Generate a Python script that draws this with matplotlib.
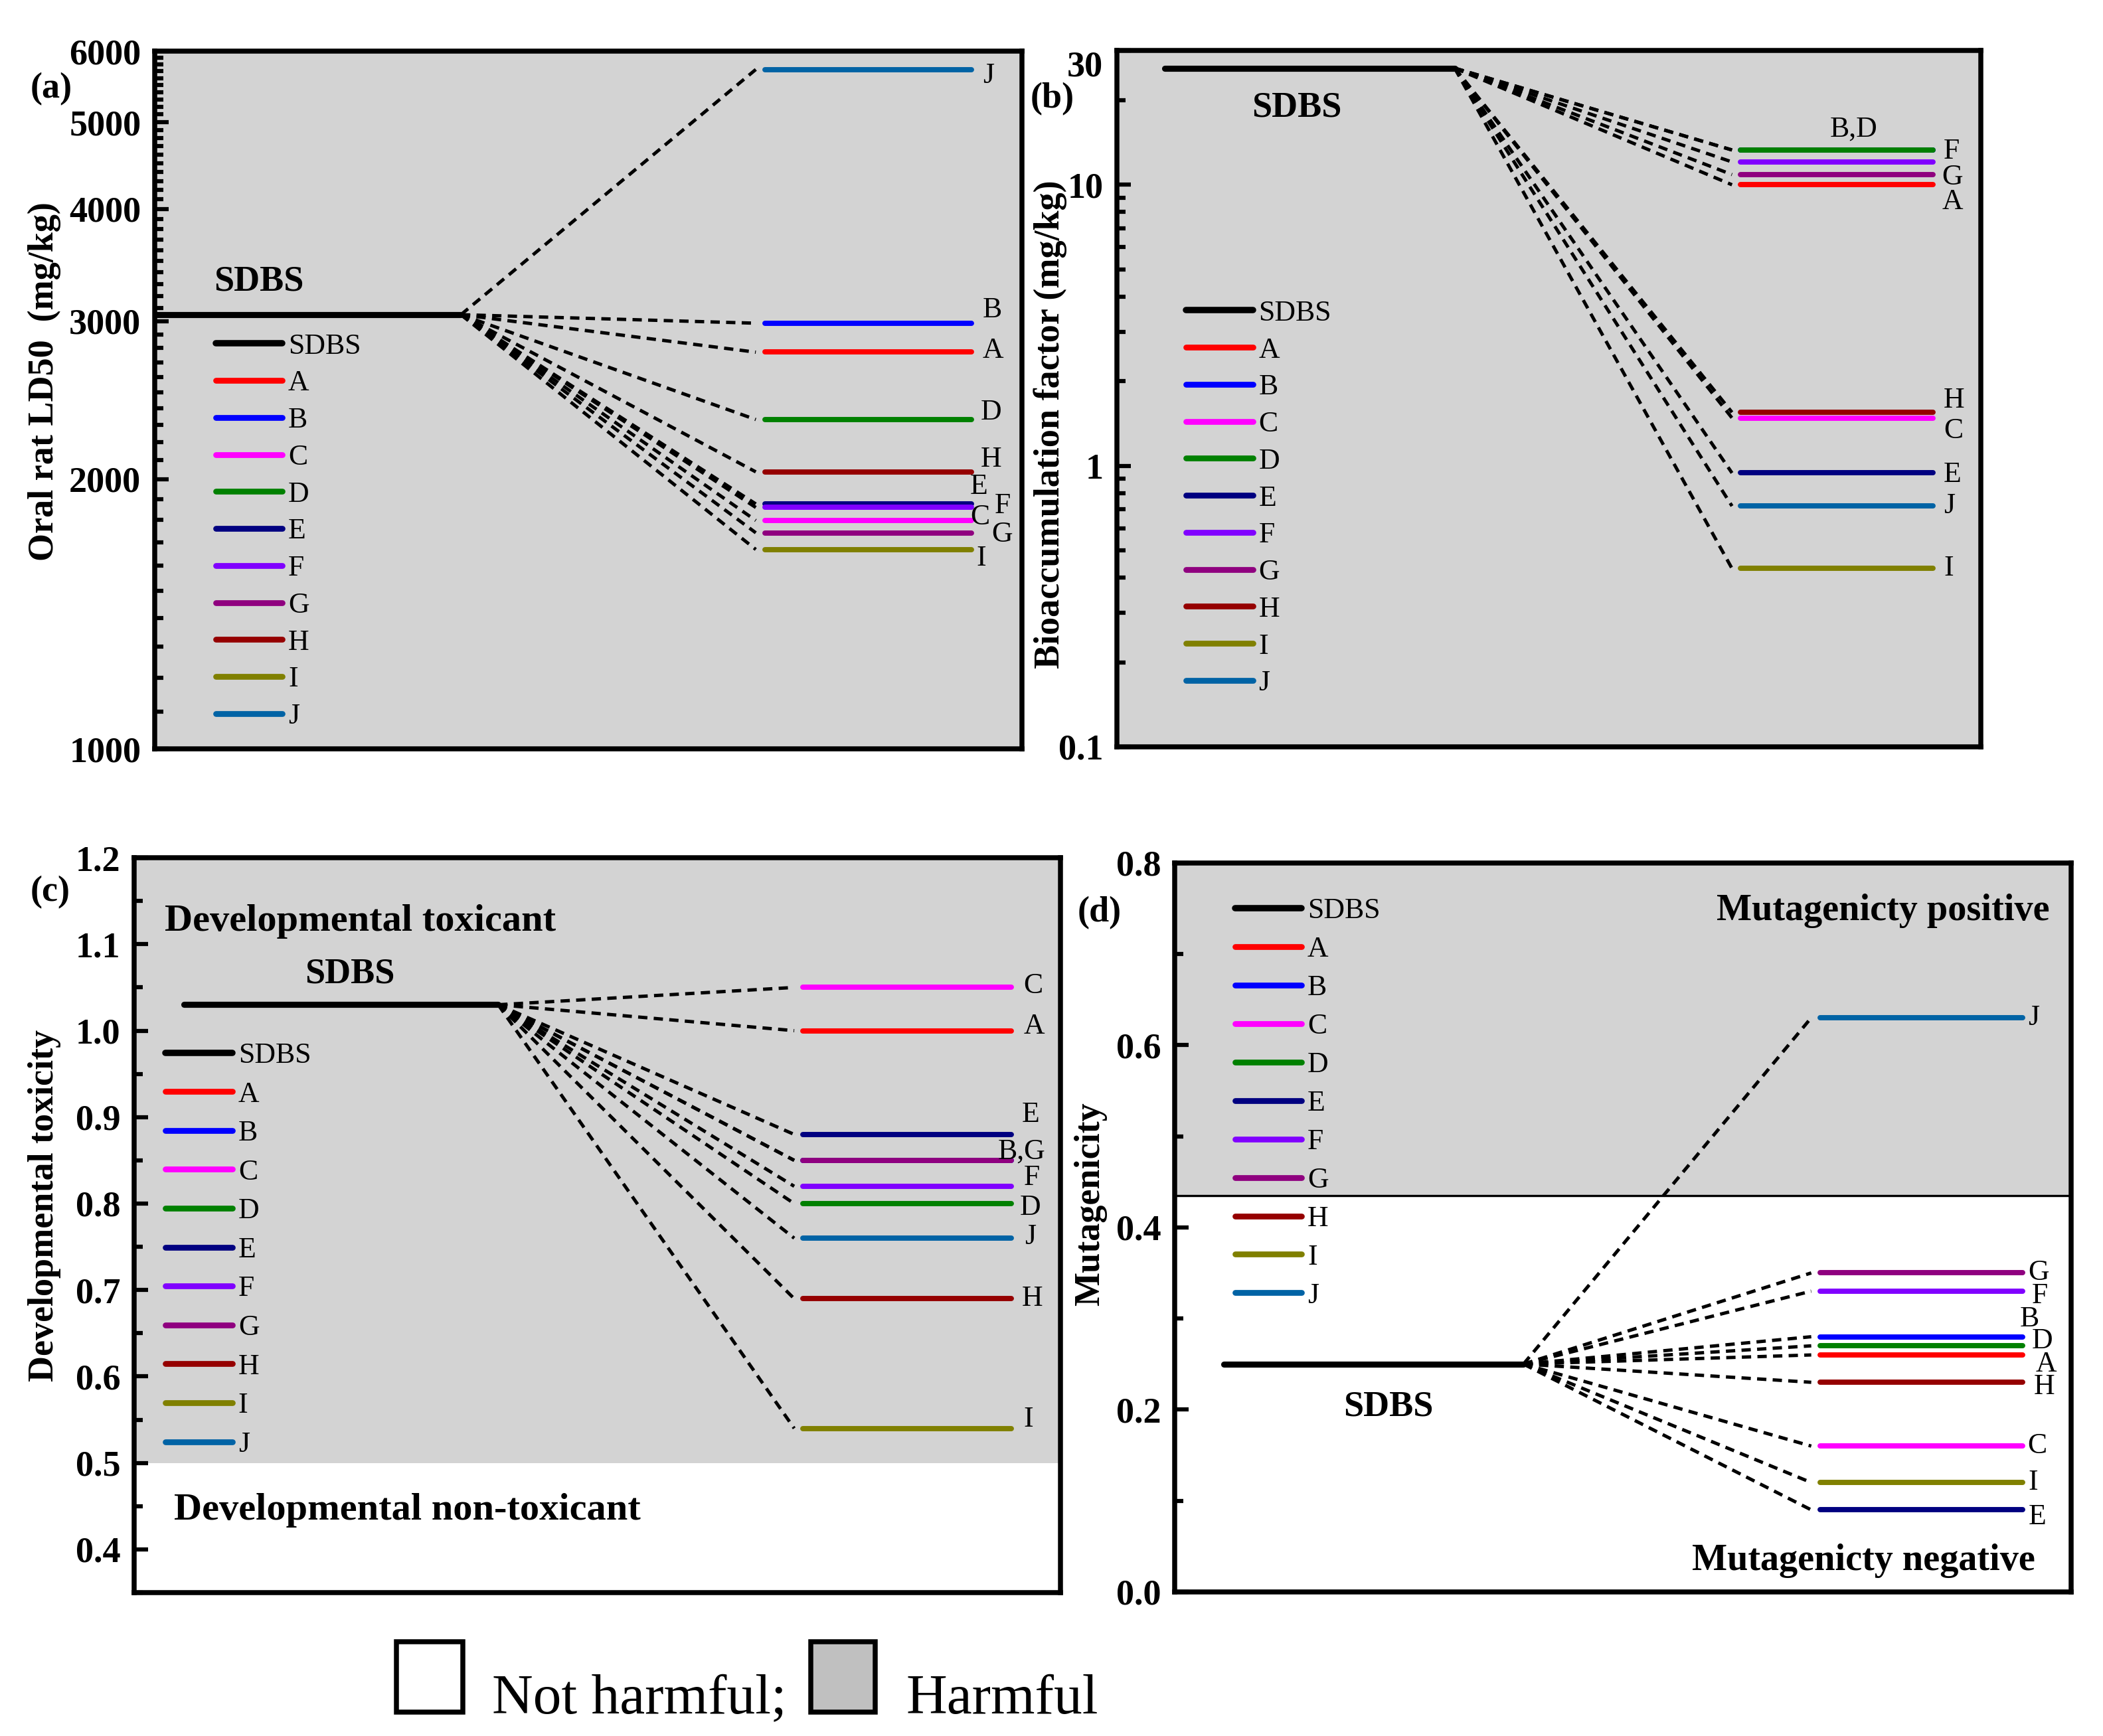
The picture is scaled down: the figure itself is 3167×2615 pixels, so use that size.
import numpy as np
import matplotlib
matplotlib.use("Agg")
import matplotlib.pyplot as plt
from matplotlib.lines import Line2D
from matplotlib.patches import Rectangle
from matplotlib.ticker import FixedLocator, MultipleLocator, LogLocator, NullFormatter

plt.rcParams['font.family'] = ['Liberation Serif', 'DejaVu Serif']

# data
compounds = ['A', 'B', 'C', 'D', 'E', 'F', 'G', 'H', 'I', 'J']
colors = ['#FF0000', '#0000FF', '#FF00FF', '#008000', '#000080',
          '#8000FF', '#8F007F', '#950000', '#808000', '#0063A5']

ld50_sdbs = 3050
ld50 = [2770, 2984, 1798, 2330, 1876, 1859, 1742, 2037, 1669, 5725]

baf_sdbs = 26
baf = [10.0, 13.3, 1.48, 13.3, 0.943, 12.06, 10.87, 1.55, 0.431, 0.719]

dev_sdbs = 1.03
dev = [1.00, 0.85, 1.05, 0.80, 0.88, 0.82, 0.85, 0.69, 0.54, 0.76]

mut_sdbs = 0.25
mut = [0.26, 0.28, 0.16, 0.27, 0.09, 0.33, 0.35, 0.23, 0.12, 0.63]

GRAY = '#D3D3D3'
LW = 1.9

fig = plt.figure(figsize=(3167 / 300, 2615 / 300), dpi=300)


def style_axis(ax):
    for s in ax.spines.values():
        s.set_linewidth(1.8)
    ax.set_xlim(0, 1)
    ax.set_xticks([])
    ax.tick_params(axis='y', which='major', direction='in', length=5, width=1.5,
                   labelsize=13, pad=5)
    ax.tick_params(axis='y', which='minor', direction='in', length=3, width=1.5)
    for lab in ax.get_yticklabels():
        lab.set_fontweight('bold')


def draw_panel(ax, sdbs, vals, sdbs_x, dash_end, cmp_x, labels, legend_pos, spacing):
    tr = ax.get_yaxis_transform()
    ax.plot(sdbs_x, [sdbs, sdbs], color='k', lw=LW + 0.3,
            solid_capstyle='round', transform=tr, zorder=3)
    for v, c in zip(vals, colors):
        ax.plot([sdbs_x[1], dash_end], [sdbs, v], color='k', lw=1.2,
                ls=(0, (2.8, 1.9)), transform=tr, zorder=2)
        ax.plot(cmp_x, [v, v], color=c, lw=LW, solid_capstyle='round',
                transform=tr, zorder=3)
    for text, (ref, x, dy, ha) in labels.items():
        v = vals[compounds.index(ref)]
        ax.annotate(text, xy=(x, v), xycoords=tr, xytext=(0, dy),
                    textcoords='offset points', ha=ha, va='center',
                    fontsize=10.5)
    handles = [Line2D([], [], color='k', lw=LW + 0.4, solid_capstyle='round')]
    handles += [Line2D([], [], color=c, lw=LW + 0.2, solid_capstyle='round') for c in colors]
    ax.legend(handles, ['SDBS'] + compounds, loc='upper left',
              bbox_to_anchor=legend_pos, frameon=False, fontsize=10.5,
              handlelength=2.3, handletextpad=0.2, labelspacing=spacing,
              borderpad=0, borderaxespad=0)


# (a) oral rat LD50
ax1 = fig.add_axes([0.0736, 0.5686, 0.4124, 0.4019])
ax1.set_facecolor(GRAY)
ax1.set_yscale('log')
ax1.set_ylim(1000, 6000)
ax1.yaxis.set_major_locator(FixedLocator([1000, 2000, 3000, 4000, 5000, 6000]))
ax1.yaxis.set_minor_locator(FixedLocator(np.arange(1100, 6000, 100)))
ax1.yaxis.set_minor_formatter(NullFormatter())
ax1.set_yticklabels(['1000', '2000', '3000', '4000', '5000', '6000'])
style_axis(ax1)
draw_panel(ax1, ld50_sdbs, ld50, [0.0, 0.353], 0.693, [0.7035, 0.9414],
           {'J': ('J', 0.9545, -2.2, 'left'), 'B': ('B', 0.9545, 4.8, 'left'),
            'A': ('A', 0.9545, 0.6, 'left'), 'D': ('D', 0.952, 2.6, 'left'),
            'H': ('H', 0.952, 4.4, 'left'), 'E': ('E', 0.940, 6.2, 'left'),
            'F': ('F', 0.968, 0.7, 'left'), 'C': ('C', 0.940, 1.3, 'left'),
            'G': ('G', 0.9646, -0.6, 'left'), 'I': ('I', 0.947, -3.3, 'left')},
           (0.07, 0.596), 0.36)
ax1.text(0.068, 3316, 'SDBS', transform=ax1.get_yaxis_transform(),
         fontsize=13, fontweight='bold', va='center', ha='left')
ax1.set_ylabel('Oral rat LD50  (mg/kg)', fontsize=13, fontweight='bold')
ax1.yaxis.set_label_coords(-0.108, 0.527)

# (b) bioaccumulation factor
ax2 = fig.add_axes([0.5311, 0.5698, 0.4108, 0.401])
ax2.set_facecolor(GRAY)
ax2.set_yscale('log')
ax2.set_ylim(0.1, 30)
ax2.yaxis.set_major_locator(FixedLocator([0.1, 1, 10, 30]))
ax2.yaxis.set_minor_locator(LogLocator(base=10, subs=np.arange(2, 10)))
ax2.yaxis.set_minor_formatter(NullFormatter())
ax2.set_yticklabels(['0.1', '1', '10', '30'])
style_axis(ax2)
ax2.yaxis.get_major_ticks()[3].label1.set_va('top')
draw_panel(ax2, baf_sdbs, baf, [0.055, 0.391], 0.712, [0.7216, 0.945],
           {'B,D': ('D', 0.853, 7.5, 'center'), 'F': ('F', 0.957, 3.7, 'left'),
            'G': ('G', 0.955, -0.9, 'left'), 'A': ('A', 0.955, -6.1, 'left'),
            'H': ('H', 0.957, 4.4, 'left'), 'C': ('C', 0.957, -4.6, 'left'),
            'E': ('E', 0.957, -0.7, 'left'), 'J': ('J', 0.957, 0, 'left'),
            'I': ('I', 0.957, 0, 'left')},
           (0.08, 0.642), 0.36)
ax2.text(0.208, 18.8, 'SDBS', transform=ax2.get_yaxis_transform(),
         fontsize=13, fontweight='bold', va='center', ha='center')
ax2.set_ylabel('Bioaccumulation factor (mg/kg)', fontsize=13, fontweight='bold')
ax2.yaxis.set_label_coords(-0.058, 0.463)

# (c) developmental toxicity
ax3 = fig.add_axes([0.0638, 0.0826, 0.4405, 0.4233])
ax3.set_ylim(0.35, 1.2)
ax3.axhspan(0.5, 1.2, color=GRAY, lw=0, zorder=0)
ax3.yaxis.set_major_locator(FixedLocator([0.4, 0.5, 0.6, 0.7, 0.8, 0.9, 1.0, 1.1, 1.2]))
ax3.yaxis.set_minor_locator(MultipleLocator(0.05))
ax3.set_yticklabels(['0.4', '0.5', '0.6', '0.7', '0.8', '0.9', '1.0', '1.1', '1.2'])
style_axis(ax3)
draw_panel(ax3, dev_sdbs, dev, [0.054, 0.393], 0.7125, [0.722, 0.947],
           {'C': ('C', 0.96, 0.55, 'left'), 'A': ('A', 0.96, 1.5, 'left'),
            'E': ('E', 0.958, 7.2, 'left'), 'B,G': ('G', 0.932, 3.3, 'left'),
            'F': ('F', 0.96, 3.1, 'left'), 'D': ('D', 0.956, -1.5, 'left'),
            'J': ('J', 0.961, 0.55, 'left'), 'H': ('H', 0.958, 0, 'left'),
            'I': ('I', 0.96, 3.3, 'left')},
           (0.034, 0.749), 0.425)
tr3 = ax3.get_yaxis_transform()
ax3.text(0.033, 1.1266, 'Developmental toxicant', transform=tr3,
         fontsize=14, fontweight='bold', va='center', ha='left')
ax3.text(0.233, 1.065, 'SDBS', transform=tr3,
         fontsize=13, fontweight='bold', va='center', ha='center')
ax3.text(0.043, 0.4455, 'Developmental non-toxicant', transform=tr3,
         fontsize=14, fontweight='bold', va='center', ha='left')
ax3.set_ylabel('Developmental toxicity', fontsize=13, fontweight='bold')
ax3.yaxis.set_label_coords(-0.079, 0.527)

# (d) mutagenicity
ax4 = fig.add_axes([0.5586, 0.083, 0.4263, 0.42])
ax4.set_ylim(0, 0.8)
ax4.axhspan(0.435, 0.8, color=GRAY, lw=0, zorder=0)
ax4.axhline(0.435, color='k', lw=0.8, zorder=1)
ax4.yaxis.set_major_locator(FixedLocator([0.0, 0.2, 0.4, 0.6, 0.8]))
ax4.yaxis.set_minor_locator(MultipleLocator(0.1))
ax4.set_yticklabels(['0.0', '0.2', '0.4', '0.6', '0.8'])
style_axis(ax4)
draw_panel(ax4, mut_sdbs, mut, [0.055, 0.389], 0.710, [0.720, 0.9455],
           {'J': ('J', 0.952, 0, 'left'), 'G': ('G', 0.952, 0, 'left'),
            'F': ('F', 0.956, -1.65, 'left'), 'B': ('B', 0.9425, 6.4, 'left'),
            'D': ('D', 0.956, 1.8, 'left'), 'A': ('A', 0.96, -3.3, 'left'),
            'H': ('H', 0.958, -1.65, 'left'), 'C': ('C', 0.951, 0, 'left'),
            'I': ('I', 0.952, 0, 'left'), 'E': ('E', 0.952, -2.6, 'left')},
           (0.067, 0.952), 0.41)
tr4 = ax4.get_yaxis_transform()
ax4.text(0.976, 0.747, 'Mutagenicty positive', transform=tr4,
         fontsize=13.5, fontweight='bold', va='center', ha='right')
ax4.text(0.96, 0.034, 'Mutagenicty negative', transform=tr4,
         fontsize=13.5, fontweight='bold', va='center', ha='right')
ax4.text(0.238, 0.2027, 'SDBS', transform=tr4,
         fontsize=13, fontweight='bold', va='center', ha='center')
ax4.set_ylabel('Mutagenicity', fontsize=13, fontweight='bold')
ax4.yaxis.set_label_coords(-0.0755, 0.532)

# panel tags
for tag, x, y in [('(a)', 0.0145, 0.9488), ('(b)', 0.490, 0.943),
                  ('(c)', 0.0145, 0.486), ('(d)', 0.5125, 0.474)]:
    fig.text(x, y, tag, fontsize=13, fontweight='bold', va='center', ha='left')

# bottom key
fig.patches.append(Rectangle((0.1885, 0.0138), 0.0315, 0.0406, transform=fig.transFigure,
                             facecolor='white', edgecolor='k', lw=1.8))
fig.patches.append(Rectangle((0.3855, 0.0138), 0.0308, 0.0406, transform=fig.transFigure,
                             facecolor='#C0C0C0', edgecolor='k', lw=1.8))
fig.text(0.234, 0.013, 'Not harmful;', fontsize=20.5, va='baseline', ha='left')
fig.text(0.431, 0.013, 'Harmful', fontsize=20.5, va='baseline', ha='left')

fig.savefig('out.png', dpi=300)
